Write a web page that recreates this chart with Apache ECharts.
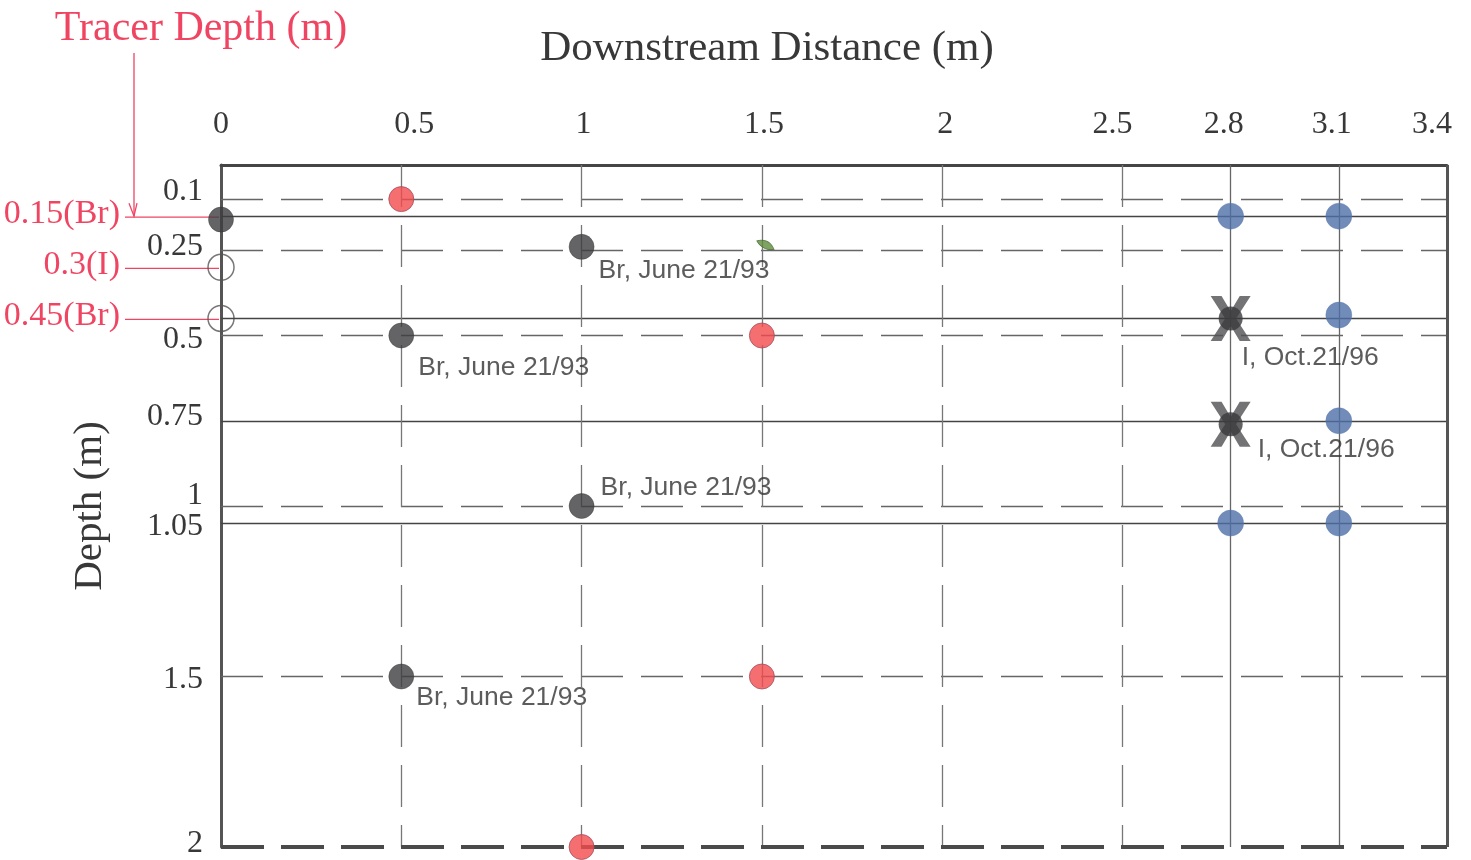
<!DOCTYPE html>
<html>
<head>
<meta charset="utf-8">
<script src="https://cdn.jsdelivr.net/npm/echarts@6/dist/echarts.min.js"></script>
<style>
html,body{margin:0;padding:0;background:#fff;}
#main{width:1471px;height:860px;}
</style>
</head>
<body>
<div id="main"></div>
<script>
// ---------- DATA ----------
const xTickLabels = [0, 0.5, 1, 1.5, 2, 2.5, 2.8, 3.1, 3.4];
const yTickLabels = [0.1, 0.25, 0.5, 0.75, 1, 1.05, 1.5, 2];
const dashedDepths = [0.1, 0.25, 0.5, 1, 1.5];
const solidDepths = [0.15, 0.45, 0.75, 1.05];
const dashedDistances = [0.5, 1, 1.5, 2, 2.5];
const solidDistances = [2.8, 3.1];
const darkPoints = [[0, 0.16], [1, 0.24], [0.5, 0.5], [1, 1.0], [0.5, 1.5]];
const darkLabels = ['', 'Br, June 21/93', 'Br, June 21/93', 'Br, June 21/93', 'Br, June 21/93'];
const redPoints = [[0.5, 0.1], [1.5, 0.5], [1.5, 1.5], [1, 2]];
const bluePoints = [[2.8, 0.15], [3.1, 0.15], [3.1, 0.44], [3.1, 0.75], [2.8, 1.05], [3.1, 1.05]];
const iPoints = [[2.8, 0.45], [2.8, 0.76]];
const iLabels = ['I, Oct.21/96', 'I, Oct.21/96'];
const openPoints = [[0, 0.3], [0, 0.45]];
const leafPoints = [[1.51, 0.235]];
const tracerDepths = [0.15, 0.3, 0.45];
const tracerLabels = ['0.15(Br)', '0.3(I)', '0.45(Br)'];
const xMin = 0, xMax = 3.4, yMin = 0, yMax = 2;

// ---------- STYLE ----------
const SERIF = "'Liberation Serif', 'Times New Roman', serif";
const SANS = "'Liberation Sans', Arial, sans-serif";
const RED_TEXT = '#f04562';
const darkLabelOffsets = [null, [17, 24], [17, 32], [19, -18], [15, 21]];
const iLabelOffsets = [[11, 39], [27, 26]];
const yLabelShift = [-8, -4, 4, -4, -10, 4, 3, -3];
const xLabelShift = [0, 13, 2, 2, 3, -10, -7, -7, -15];

const chart = echarts.init(document.getElementById('main'), null, {renderer: 'canvas'});

const near = (a, b) => Math.abs(a - b) < 1e-6;
const yRich = {};
yTickLabels.forEach((v, i) => {
  const s = yLabelShift[i];
  yRich['r' + i] = {
    fontFamily: SERIF, fontSize: 32, color: '#383838',
    padding: s < 0 ? [0, 0, -2 * s, 0] : [2 * s, 0, 0, 0]
  };
});
const xRich = {};
xTickLabels.forEach((v, i) => {
  const s = xLabelShift[i];
  xRich['c' + i] = {
    fontFamily: SERIF, fontSize: 32, color: '#383838',
    padding: s < 0 ? [0, -2 * s, 0, 0] : [0, 0, 0, 2 * s]
  };
});

const annoLabel = (text, off) => ({
  show: !!text, formatter: text, position: 'inside', align: 'left', verticalAlign: 'middle',
  offset: off || [0, 0], fontFamily: SANS, fontSize: 26.5, color: '#333'
});

const xPath = 'path://M6,0 L30,0 L50,34 L70,0 L94,0 L62,50 L94,100 L70,100 L50,66 L30,100 L6,100 L38,50 Z';
const leafPath = 'path://M0,0 C10,2 20,12 18,30 C8,26 0,16 0,0 Z';

const mkLines = (vals, key, type, width, color) => vals.map(v => ({
  [key]: v, lineStyle: {type: type, width: width, color: color}
}));

const option = {
  backgroundColor: '#ffffff',
  animation: false,
  grid: {left: 221, right: 24, top: 165, bottom: 12, containLabel: false},
  xAxis: {
    type: 'value', position: 'top', min: xMin, max: xMax, interval: 0.1,
    axisLine: {show: true, onZero: false, lineStyle: {color: '#454545', width: 3}},
    axisTick: {show: false},
    splitLine: {show: false},
    axisLabel: {
      interval: 0, margin: 24, fontFamily: SERIF, fontSize: 32, color: '#383838',
      rich: xRich,
      formatter: v => {
        const i = xTickLabels.findIndex(x => near(x, v));
        return i < 0 ? '' : '{c' + i + '|' + xTickLabels[i] + '}';
      }
    }
  },
  yAxis: {
    type: 'value', inverse: true, min: yMin, max: yMax, interval: 0.05,
    name: 'Depth (m)', nameLocation: 'middle', nameGap: 110, nameRotate: 90,
    nameTextStyle: {fontFamily: SERIF, fontSize: 41, color: '#383838'},
    axisLine: {show: true, onZero: false, lineStyle: {color: '#555', width: 3}},
    axisTick: {show: false},
    splitLine: {show: false},
    axisLabel: {
      interval: 0, margin: 18, fontFamily: SERIF, fontSize: 32, color: '#383838',
      rich: yRich,
      formatter: v => {
        const i = yTickLabels.findIndex(t => near(t, v));
        return i < 0 ? '' : '{r' + i + '|' + yTickLabels[i] + '}';
      }
    }
  },
  graphic: [
    {type: 'text', x: 767, y: 49, z: 10,
      style: {text: 'Downstream Distance (m)', fontFamily: SERIF, fontSize: 43, fill: '#383838',
        textAlign: 'center', textVerticalAlign: 'middle'}},
    {type: 'text', x: 201, y: 29, z: 10,
      style: {text: 'Tracer Depth (m)', fontFamily: SERIF, fontSize: 42, fill: RED_TEXT,
        textAlign: 'center', textVerticalAlign: 'middle'}}
  ],
  series: [
    {
      name: 'grid', type: 'line', data: [], z: 1, silent: true,
      markLine: {
        silent: true, symbol: ['none', 'none'], label: {show: false}, animation: false,
        emphasis: {disabled: true},
        data: [].concat(
          mkLines(dashedDepths, 'yAxis', [42, 18], 1.3, '#666'),
          mkLines(solidDepths, 'yAxis', 'solid', 1.3, '#444'),
          mkLines(dashedDistances, 'xAxis', [42, 18], 1.3, '#777'),
          mkLines(solidDistances, 'xAxis', 'solid', 1.3, '#666'),
          mkLines([xMax], 'xAxis', 'solid', 3, '#555'),
          mkLines([yMax], 'yAxis', [43, 17], 4, '#4a4a4a')
        )
      }
    },
    {
      name: 'tracer', type: 'custom', z: 3, silent: true, clip: false,
      data: tracerDepths.map((d, i) => [xMin, d, i]),
      renderItem: (params, api) => {
        const p = api.coord([api.value(0), api.value(1)]);
        const i = api.value(2);
        const children = [
          {type: 'line', shape: {x1: p[0] - 96, y1: p[1] + 1, x2: p[0] - 2, y2: p[1] + 1},
            style: {stroke: RED_TEXT, lineWidth: 1.3}},
          {type: 'text', x: p[0] - 101, y: p[1] - 2,
            style: {text: tracerLabels[i], fontFamily: SERIF, fontSize: 34, fill: RED_TEXT,
              textAlign: 'right', textVerticalAlign: 'middle'}}
        ];
        if (i === 0) {
          children.push({type: 'line', shape: {x1: p[0] - 87, y1: 53, x2: p[0] - 87, y2: p[1]},
            style: {stroke: RED_TEXT, lineWidth: 1.3}});
          children.push({type: 'polyline', shape: {points: [[p[0] - 92, p[1] - 13], [p[0] - 87, p[1]], [p[0] - 84, p[1] - 13]]},
            style: {stroke: RED_TEXT, lineWidth: 1.3, fill: 'none'}});
        }
        return {type: 'group', children: children};
      }
    },
    {
      name: 'open', type: 'scatter', z: 4, clip: false, silent: true,
      data: openPoints, symbol: 'circle', symbolSize: 26,
      itemStyle: {color: 'rgba(0,0,0,0)', borderColor: '#555', borderWidth: 1.5}
    },
    {
      name: 'Br dark', type: 'scatter', z: 5, clip: false, silent: true,
      symbol: 'circle', symbolSize: 25,
      itemStyle: {color: '#3d3d40', borderColor: '#333', borderWidth: 0.5},
      data: darkPoints.map((p, i) => ({value: p, label: annoLabel(darkLabels[i], darkLabelOffsets[i])}))
    },
    {
      name: 'red', type: 'scatter', z: 5, clip: false, silent: true,
      symbol: 'circle', symbolSize: 25, data: redPoints,
      itemStyle: {color: '#f24a4c', borderColor: '#a05060', borderWidth: 1}
    },
    {
      name: 'blue', type: 'scatter', z: 5, clip: false, silent: true,
      symbol: 'circle', symbolSize: 26, data: bluePoints,
      itemStyle: {color: '#4d6fa8', borderColor: '#5a7ab0', borderWidth: 0.5}
    },
    {
      name: 'I x', type: 'scatter', z: 6, clip: false, silent: true,
      symbol: xPath, symbolSize: [40, 45],
      itemStyle: {color: '#505052'},
      data: iPoints.map((p, i) => ({value: p, label: annoLabel(iLabels[i], iLabelOffsets[i])}))
    },
    {
      name: 'I core', type: 'scatter', z: 7, clip: false, silent: true,
      symbol: 'circle', symbolSize: 24, data: iPoints,
      itemStyle: {color: '#3a3a3c'}
    },
    {
      name: 'leaf', type: 'scatter', z: 5, clip: false, silent: true,
      symbol: leafPath, symbolSize: [11, 16], symbolRotate: 30, data: leafPoints,
      itemStyle: {color: '#5f8c3c', borderColor: '#3d5f28', borderWidth: 0.8}
    }
  ]
};
chart.setOption(option);
</script>
</body>
</html>
